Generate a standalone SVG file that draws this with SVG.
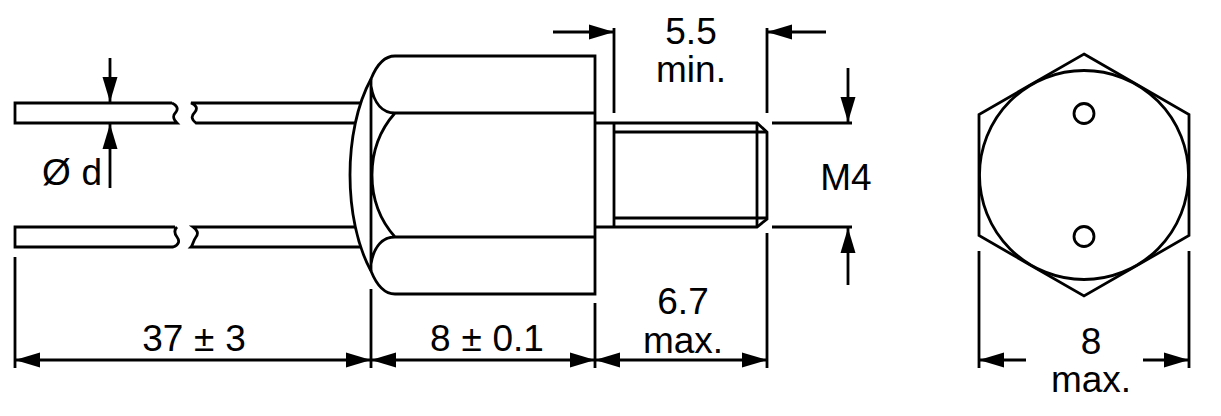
<svg xmlns="http://www.w3.org/2000/svg" width="1221" height="416" viewBox="0 0 1221 416">
<style>
.l{fill:none;stroke:#000;stroke-width:2.8}
.a{fill:#000;stroke:none}
.t{font-family:"Liberation Sans",Arial,sans-serif;font-size:37px;word-spacing:0.5px;fill:#000;text-anchor:middle}
</style>
<defs>
<path id="ah" class="a" d="M0 0L-25 -7.5L-25 7.5Z"/>
</defs>
<rect width="1221" height="416" fill="#fff"/>
<g id="cable-top" class="l">
<path d="M172 103H15V123H177C172 118 173 115 176 112C179 108 176 105 172 103M360 103H191C196 105 198 108 195 112C191 116 191 119 196 123H355"/>
</g>
<g id="cable-bottom" class="l">
<path d="M175 227H15V247H173C179 245 180 241 177 237C174 233 174 230 177 227M355 227H193C197 230 199 233 196 237C193 241 193 245 191 247H360"/>
</g>
<g id="nut" class="l">
<path d="M371 79C377 64 384 56 395 56H595V294H395C384 294 377 286 371 271C343 220 343 130 371 79Z"/>
<path d="M371 79V271M371 86C374 104 383 113 395 113H595M371 264C374 246 383 237 395 237H595M395 113C379 131 372 153 372 175C372 197 379 219 395 237"/>
</g>
<g id="stud" class="l">
<path d="M595 123H757L767 132V219L757 227H595"/>
<path d="M614 123V227M614 132H767M614 218H767M757 123V227"/>
</g>
<g id="hex-view" class="l">
<path d="M1084 54L1189 114.500V235.500L1084 296L979 235.500V114.500Z"/>
<circle cx="1084" cy="175" r="104.500"/>
<circle cx="1084" cy="113.500" r="10"/>
<circle cx="1084" cy="236.500" r="10"/>
</g>
<g id="connectors" class="l">
<path d="M110 58V103M110 123V188"/>
<path d="M15 257V368M371 289V368M595 303V368M767 233V368"/>
<path d="M15 360H767"/>
<path d="M614 28V113M767 28V113M553 32H614M767 32H826"/>
<path d="M772 123H852M772 227H852M848 68V123M848 227V285"/>
<path d="M979 251V368M1189 251V368M979 360H1026M1143 360H1189"/>
</g>
<g id="arrows">
<use href="#ah" transform="translate(110 102) rotate(90)"/>
<use href="#ah" transform="translate(110 124) rotate(-90)"/>
<use href="#ah" transform="translate(15 360) rotate(180)"/>
<use href="#ah" transform="translate(371 360)"/>
<use href="#ah" transform="translate(371 360) rotate(180)"/>
<use href="#ah" transform="translate(595 360)"/>
<use href="#ah" transform="translate(595 360) rotate(180)"/>
<use href="#ah" transform="translate(767 360)"/>
<use href="#ah" transform="translate(614 32)"/>
<use href="#ah" transform="translate(767 32) rotate(180)"/>
<use href="#ah" transform="translate(848 122) rotate(90)"/>
<use href="#ah" transform="translate(848 228) rotate(-90)"/>
<use href="#ah" transform="translate(979 360) rotate(180)"/>
<use href="#ah" transform="translate(1189 360)"/>
</g>
<g id="labels">
<text class="t" x="72" y="185">Ø d</text>
<text class="t" x="194" y="351">37 ± 3</text>
<text class="t" x="487" y="351">8 ± 0.1</text>
<text class="t" x="683" y="314">6.7</text>
<text class="t" x="683" y="353">max.</text>
<text class="t" x="691" y="44">5.5</text>
<text class="t" x="691" y="82">min.</text>
<text class="t" x="846" y="190">M4</text>
<text class="t" x="1091" y="354">8</text>
<text class="t" x="1091" y="392">max.</text>
</g>
</svg>
